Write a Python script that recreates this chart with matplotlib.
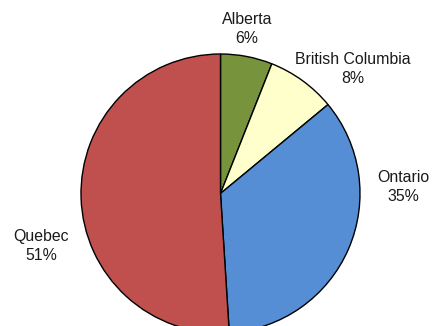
import matplotlib
matplotlib.use("Agg")
import matplotlib.pyplot as plt

provinces = ["Alberta", "British Columbia", "Ontario", "Quebec"]
shares = [6, 8, 35, 51]
colors = ["#77933C", "#FFFFCC", "#558ED5", "#C0504D"]

# label anchor points (pixel coordinates, origin top-left)
label_pos = [(247, 29), (353, 69), (403, 187), (41, 246)]

W, H = 432, 326
fig = plt.figure(figsize=(W / 100, H / 100), dpi=100)
ax = fig.add_axes([0, 0, 1, 1])

cx, cy, r = 220.5, H - 193.5, 139.5
ax.pie(shares, colors=colors, startangle=90, counterclock=False,
       center=(cx, cy), radius=r, frame=True,
       wedgeprops=dict(edgecolor="black", linewidth=1.0))
ax.set_xlim(0, W)
ax.set_ylim(0, H)
ax.set_aspect("equal")
ax.axis("off")

for name, val, (x, y) in zip(provinces, shares, label_pos):
    ax.text(x, H - y, f"{name}\n{val}%", ha="center", va="center",
            fontsize=11.4, family="Liberation Sans", color="#1a1a1a",
            linespacing=1.3)

fig.savefig("out.png", dpi=100)
